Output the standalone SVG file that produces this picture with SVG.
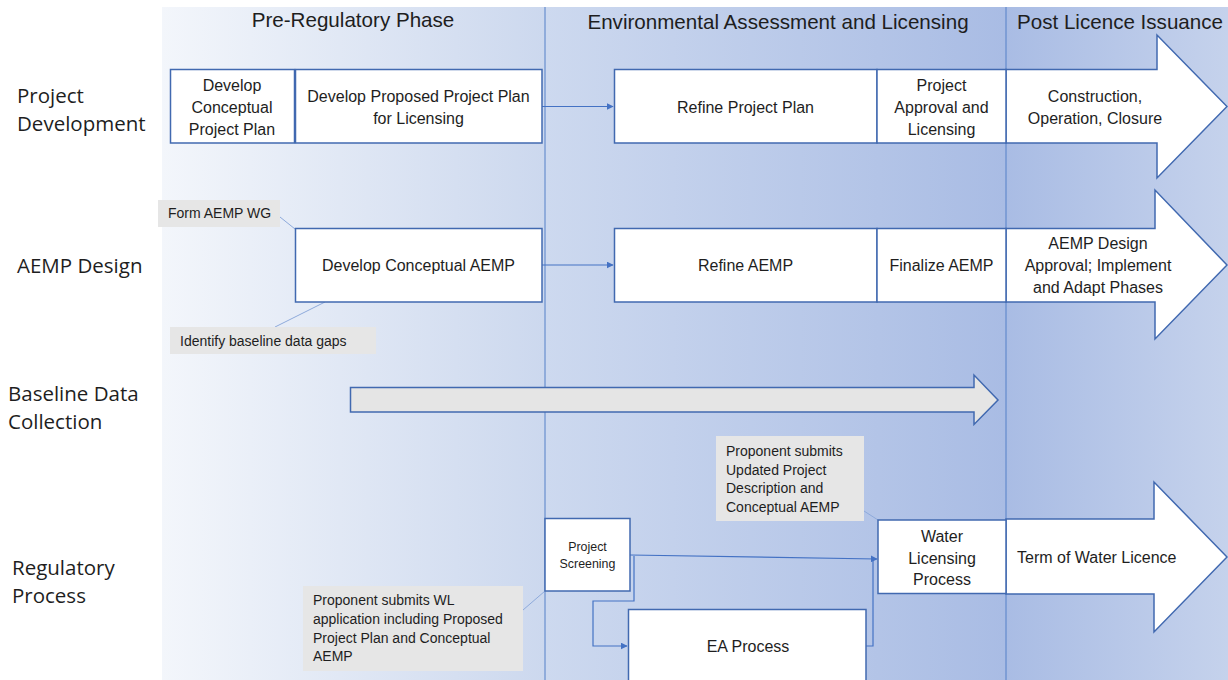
<svg xmlns="http://www.w3.org/2000/svg" width="1228" height="680" viewBox="0 0 1228 680">
<defs>
<linearGradient id="gp1" x1="0" y1="0" x2="1" y2="0"><stop offset="0" stop-color="#f3f6fb"/><stop offset="1" stop-color="#ccd8ee"/></linearGradient>
<linearGradient id="gp2" x1="0" y1="0" x2="1" y2="0"><stop offset="0" stop-color="#cdd9ef"/><stop offset="1" stop-color="#a9bce4"/></linearGradient>
<linearGradient id="gp3" x1="0" y1="0" x2="1" y2="0"><stop offset="0" stop-color="#a9bce4"/><stop offset="1" stop-color="#c5d2ec"/></linearGradient>
<marker id="ah" viewBox="0 0 10 10" refX="9" refY="5" markerWidth="7" markerHeight="7" markerUnits="userSpaceOnUse" orient="auto"><path d="M0,0 L10,5 L0,10 z" fill="#4472c4"/></marker>
<style>
.box{fill:#ffffff;stroke:#4169b0;stroke-width:1.5}
.big{fill:#ffffff;stroke:#4169b0;stroke-width:1.5}
.note{fill:#e6e6e6}
.t{font-family:"Liberation Sans",Arial,sans-serif;font-size:16px;fill:#1e1e1e;text-anchor:middle}
.ts{font-family:"Liberation Sans",Arial,sans-serif;font-size:14px;fill:#1e1e1e}
.tss{font-family:"Liberation Sans",Arial,sans-serif;font-size:12.4px;fill:#1e1e1e;text-anchor:middle}
.hd{font-family:"Liberation Sans",Arial,sans-serif;font-size:20.6px;fill:#1e1e1e;text-anchor:middle}
.lb{font-family:"Open Sans",sans-serif;font-size:20.5px;fill:#1e1e1e}
.con{fill:none;stroke:#4472c4;stroke-width:1.2}
.lead{fill:none;stroke:#8eaadb;stroke-width:1}
.div{stroke:#5580c8;stroke-width:1}
</style>
</defs>
<rect x="0" y="0" width="1228" height="680" fill="#ffffff"/>
<g id="phases">
<rect x="162" y="7" width="383" height="673" fill="url(#gp1)"/>
<rect x="545" y="7" width="461" height="673" fill="url(#gp2)"/>
<rect x="1006" y="7" width="222" height="673" fill="url(#gp3)"/>
<line class="div" x1="545" y1="7" x2="545" y2="680"/>
<line class="div" x1="1006" y1="7" x2="1006" y2="680"/>
<text class="hd" x="353" y="27">Pre-Regulatory Phase</text>
<text class="hd" x="778" y="29">Environmental Assessment and Licensing</text>
<text class="hd" x="1120" y="29">Post Licence Issuance</text>
</g>
<g id="row-labels">
<text class="lb" x="17" y="103">Project</text>
<text class="lb" x="17" y="131">Development</text>
<text class="lb" x="17" y="273">AEMP Design</text>
<text class="lb" x="8" y="401">Baseline Data</text>
<text class="lb" x="8" y="429">Collection</text>
<text class="lb" x="12" y="575">Regulatory</text>
<text class="lb" x="12" y="603">Process</text>
</g>
<g id="connectors">
<path class="con" d="M542,106.5 L613,106.5" marker-end="url(#ah)"/>
<path class="con" d="M542,265 L613,265" marker-end="url(#ah)"/>
<path class="con" d="M630,555 L877,559" marker-end="url(#ah)"/>
<path class="con" d="M634,556 L634,601 L593,601 L593,646 L627,646" marker-end="url(#ah)"/>
<path class="con" d="M866,646 L873,646 L873,560"/>
<path class="lead" d="M280,217 L295,229"/>
<path class="lead" d="M325,302 L275,327"/>
<path class="lead" d="M523,610 L545,591"/>
<path class="lead" d="M864,511 L878,520"/>
</g>
<g id="n-construction">
<polygon class="big" points="1006,69.5 1157,69.5 1157,35 1227,106.5 1157,178 1157,143 1006,143"/>
<text class="t" x="1095" y="102">Construction,</text>
<text class="t" x="1095" y="124">Operation, Closure</text>
</g>
<g id="n-aemp-approval">
<polygon class="big" points="1006,228.5 1155,228.5 1155,190 1227,265 1155,339 1155,302 1006,302"/>
<text class="t" x="1098" y="249">AEMP Design</text>
<text class="t" x="1098" y="271">Approval; Implement</text>
<text class="t" x="1098" y="293">and Adapt Phases</text>
</g>
<g id="n-term">
<polygon class="big" points="1006,519 1154,519 1154,482 1227,557 1154,632 1154,594 1006,594"/>
<text class="t" x="1017" y="563" style="text-anchor:start">Term of Water Licence</text>
</g>
<g id="n-dcpp">
<rect class="box" x="170.5" y="69.5" width="124" height="73.5"/>
<text class="t" x="232" y="91">Develop</text>
<text class="t" x="232" y="113">Conceptual</text>
<text class="t" x="232" y="135">Project Plan</text>
</g>
<g id="n-dppp">
<rect class="box" x="295.5" y="69.5" width="246.5" height="73.5"/>
<text class="t" x="418.5" y="102">Develop Proposed Project Plan</text>
<text class="t" x="418.5" y="124">for Licensing</text>
</g>
<g id="n-rpp">
<rect class="box" x="614.5" y="69.5" width="262.5" height="73.5"/>
<text class="t" x="745.5" y="113">Refine Project Plan</text>
</g>
<g id="n-pal">
<rect class="box" x="877" y="69.5" width="129" height="73.5"/>
<text class="t" x="941.5" y="91">Project</text>
<text class="t" x="941.5" y="113">Approval and</text>
<text class="t" x="941.5" y="135">Licensing</text>
</g>
<g id="n-form-wg">
<rect class="note" x="158" y="200" width="122" height="27"/>
<text class="ts" x="168" y="218">Form AEMP WG</text>
</g>
<g id="n-dca">
<rect class="box" x="295.5" y="228.5" width="246.5" height="73.5"/>
<text class="t" x="418.5" y="271">Develop Conceptual AEMP</text>
</g>
<g id="n-gaps">
<rect class="note" x="170" y="327" width="206" height="27"/>
<text class="ts" x="180" y="346">Identify baseline data gaps</text>
</g>
<g id="n-refine-aemp">
<rect class="box" x="614.5" y="228.5" width="262.5" height="73.5"/>
<text class="t" x="745.5" y="271">Refine AEMP</text>
</g>
<g id="n-finalize">
<rect class="box" x="877" y="228.5" width="129" height="73.5"/>
<text class="t" x="941.5" y="271">Finalize AEMP</text>
</g>
<g id="n-baseline">
<polygon points="350.5,387.5 974,387.5 974,375 998,400 974,424.5 974,412 350.5,412" fill="#e5e5e5" stroke="#4169b0" stroke-width="1.5"/>
</g>
<g id="n-screening">
<rect class="box" x="545" y="518.5" width="85" height="72.5"/>
<text class="tss" x="587.5" y="551">Project</text>
<text class="tss" x="587.5" y="568">Screening</text>
</g>
<g id="n-wl-app">
<rect class="note" x="303" y="586" width="220" height="85"/>
<text class="ts" x="313" y="605">Proponent submits WL</text>
<text class="ts" x="313" y="624">application including Proposed</text>
<text class="ts" x="313" y="642.5">Project Plan and Conceptual</text>
<text class="ts" x="313" y="661">AEMP</text>
</g>
<g id="n-updated">
<rect class="note" x="716" y="436" width="148" height="85"/>
<text class="ts" x="726" y="456">Proponent submits</text>
<text class="ts" x="726" y="474.5">Updated Project</text>
<text class="ts" x="726" y="493">Description and</text>
<text class="ts" x="726" y="511.5">Conceptual AEMP</text>
</g>
<g id="n-ea">
<rect class="box" x="628.5" y="609.5" width="237.5" height="80"/>
<text class="t" x="748" y="652">EA Process</text>
</g>
<g id="n-wlp">
<rect class="box" x="878" y="520" width="128" height="73.5"/>
<text class="t" x="942" y="542">Water</text>
<text class="t" x="942" y="563.5">Licensing</text>
<text class="t" x="942" y="585">Process</text>
</g>
</svg>
